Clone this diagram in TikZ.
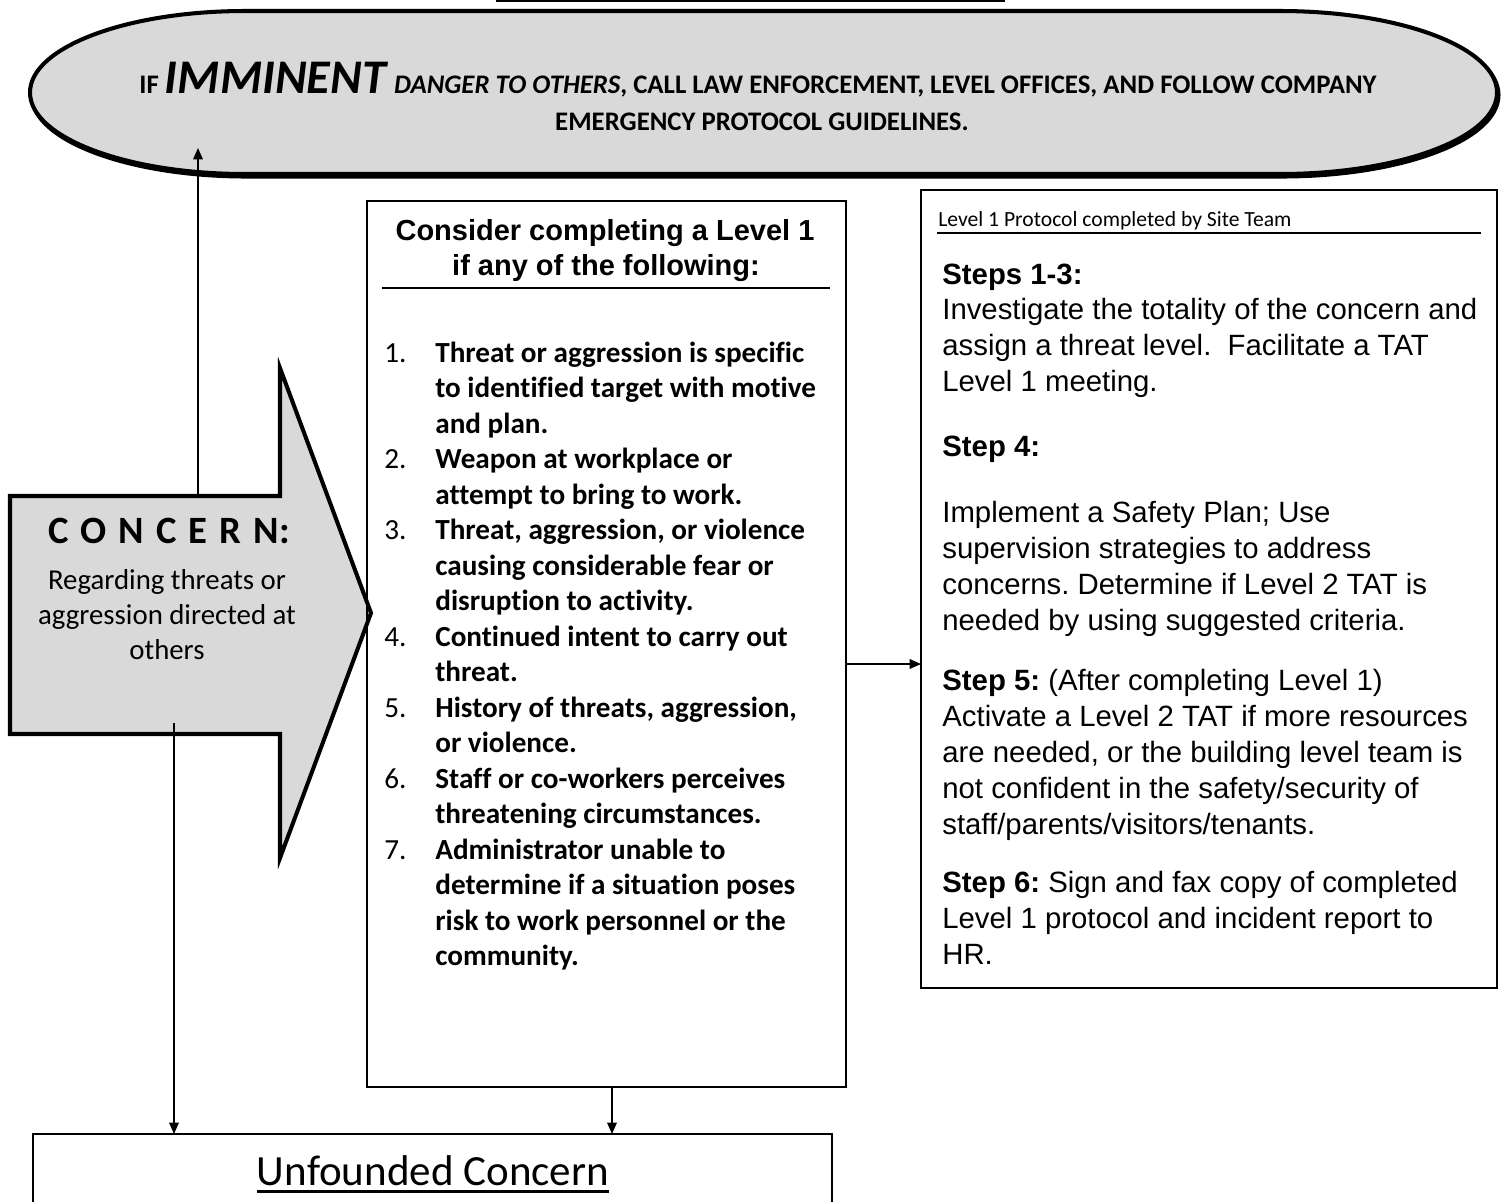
\documentclass[tikz,border=0pt]{standalone}
\usepackage{fontspec}
\setmainfont{Carlito}[Ligatures={NoCommon,NoRare}]
\newfontfamily\arialf{Liberation Sans}[Ligatures={NoCommon}]
\usetikzlibrary{arrows.meta}
\definecolor{fillg}{HTML}{D9D9D9}
\frenchspacing
\tikzset{
  box/.style={draw, line width=1.1pt, rectangle, inner sep=0pt},
  thickshape/.style={draw, fill=fillg, line width=2.3pt, line join=miter},
  arr/.style={line width=0.8pt, -{Triangle[length=6.5pt,width=5.5pt]}},
  txt/.style={inner sep=0pt, anchor=base west},
  ctxt/.style={inner sep=0pt, anchor=base},
  li/.style={txt, font=\fontsize{16.6}{20}\selectfont\bfseries},
  num/.style={txt, font=\fontsize{16.6}{20}\selectfont},
  rb/.style={txt, font=\arialf\fontsize{16.7}{20}\selectfont},
  rbb/.style={txt, font=\arialf\bfseries\fontsize{16.7}{20}\selectfont},
  bant/.style={ctxt, font=\fontsize{15.25}{18}\selectfont\bfseries},
  rulel/.style={line width=0.9pt},
}
\begin{document}
\begin{tikzpicture}[x=0.02cm,y=0.02cm]
\clip (0,0) rectangle (1502,-1201);

% fragment of a box above the picture
\draw[line width=1.7pt] (496,-1) -- (1005,-1);

% banner
\draw[line width=2.3pt, shift={(1.5,-2.5)}] (245,-11) -- (1280,-11)
  arc[start angle=90, end angle=-90, x radius=217, y radius=81.5]
  -- (245,-174) arc[start angle=270, end angle=90, x radius=215, y radius=81.5] -- cycle;
\path[thickshape] (245,-11) -- (1280,-11)
  arc[start angle=90, end angle=-90, x radius=217, y radius=81.5]
  -- (245,-174) arc[start angle=270, end angle=90, x radius=215, y radius=81.5] -- cycle;
\node[bant] (ban1) at (758,-93) {IF \textit{\fontsize{27.5}{30}\selectfont IMMINENT} \textit{DANGER TO OTHERS}, CALL LAW ENFORCEMENT, LEVEL OFFICES, AND FOLLOW COMPANY};
\node[bant] (ban2) at (762,-130) {EMERGENCY PROTOCOL GUIDELINES.};
\coordinate (banIn) at (198,-148);

% concern arrow shape
\path[thickshape] (10,-496) -- (280,-496) -- (280,-368) -- (371,-613) -- (280,-858) -- (280,-734) -- (10,-734) -- cycle;
\coordinate (cTop) at (198,-496);
\coordinate (cBot) at (174,-723);
\node[ctxt, font=\fontsize{22}{26}\selectfont\bfseries] (ctitle) at (169,-543)
  {C\hspace{6.9pt}O\hspace{6.9pt}N\hspace{6.9pt}C\hspace{6.9pt}E\hspace{6.9pt}R\hspace{6.9pt}N:};
\node[ctxt, font=\fontsize{16.4}{20}\selectfont] (c1) at (167,-589) {Regarding threats or};
\node[ctxt, font=\fontsize{16.4}{20}\selectfont] (c2) at (167,-624) {aggression directed at};
\node[ctxt, font=\fontsize{16.4}{20}\selectfont] (c3) at (167,-659) {others};

% level 1 box
\node[box, minimum width=9.58cm, minimum height=17.72cm] (lvl1) at (606.5,-644) {};
\node[ctxt, font=\arialf\bfseries\fontsize{16.5}{20}\selectfont] (t1) at (605,-240) {Consider completing a Level 1};
\node[ctxt, font=\arialf\bfseries\fontsize{16.5}{20}\selectfont] (t2) at (606,-275) {if any of the following:};
\draw[rulel] (382,-288) -- (830,-288);

\foreach \t [count=\k] in {
  {Threat or aggression is specific},
  {to identified target with motive},
  {and plan.},
  {Weapon at workplace or},
  {attempt to bring to work.},
  {Threat, aggression, or violence},
  {causing considerable fear or},
  {disruption to activity.},
  {Continued intent to carry out},
  {threat.},
  {History of threats, aggression,},
  {or violence.},
  {Staff or co-workers perceives},
  {threatening circumstances.},
  {Administrator unable to},
  {determine if a situation poses},
  {risk to work personnel or the},
  {community.}}
  \node[li] (li\k) at (435,{-362-35.5*(\k-1)}) {\t};
\foreach \n/\k in {1/0,2/3,3/5,4/8,5/10,6/12,7/14}
  \node[num] (num\n) at (384,{-362-35.5*\k}) {\n.};

% right protocol box
\node[box, minimum width=11.52cm, minimum height=15.96cm] (prot) at (1209,-589) {};
\node[txt, font=\fontsize{12.3}{15}\selectfont] (phead) at (938,-226) {Level 1 Protocol completed by Site Team};
\draw[rulel] (937,-233) -- (1481,-233);
\node[rbb] (s13) at (942,-284) {Steps 1-3:};
\node[rb] (r1) at (942,-319) {Investigate the totality of the concern and};
\node[rb] (r2) at (942,-355) {assign a threat level.\ \ Facilitate a TAT};
\node[rb] (r3) at (942,-391) {Level 1 meeting.};
\node[rbb] (s4) at (942,-456) {Step 4:};
\node[rb] (r4) at (942,-522) {Implement a Safety Plan; Use};
\node[rb] (r5) at (942,-558) {supervision strategies to address};
\node[rb] (r6) at (942,-594) {concerns. Determine if Level 2 TAT is};
\node[rb] (r7) at (942,-630) {needed by using suggested criteria.};
\node[rb] (r8) at (942,-690) {\textbf{Step 5:} (After completing Level 1)};
\node[rb] (r9) at (942,-726) {Activate a Level 2 TAT if more resources};
\node[rb] (r10) at (942,-762) {are needed, or the building level team is};
\node[rb] (r11) at (942,-798) {not confident in the safety/security of};
\node[rb] (r12) at (942,-834) {staff/parents/visitors/tenants.};
\node[rb] (r13) at (942,-892) {\textbf{Step 6:} Sign and fax copy of completed};
\node[rb] (r14) at (942,-928) {Level 1 protocol and incident report to};
\node[rb] (r15) at (942,-964) {HR.};

% unfounded concern box
\node[box, minimum width=15.98cm, minimum height=2.6cm] (unf) at (432.5,-1199) {};
\node[ctxt, font=\fontsize{24.5}{29}\selectfont] (unft) at (433,-1185) {Unfounded Concern};
\draw[line width=1.3pt] ([yshift=-0.13cm]unft.base west) -- ([yshift=-0.13cm]unft.base east);

% connectors
\coordinate (l1r) at (846,-664);
\coordinate (p1l) at (921,-664);
\coordinate (l1b) at (612,-1088);
\coordinate (u1) at (612,-1134);
\coordinate (u2) at (174,-1134);
\draw[arr] (cTop) -- (banIn);
\draw[arr] (cBot) -- (u2);
\draw[arr] (l1b) -- (u1);
\draw[arr] (l1r) -- (p1l);
\end{tikzpicture}
\end{document}
